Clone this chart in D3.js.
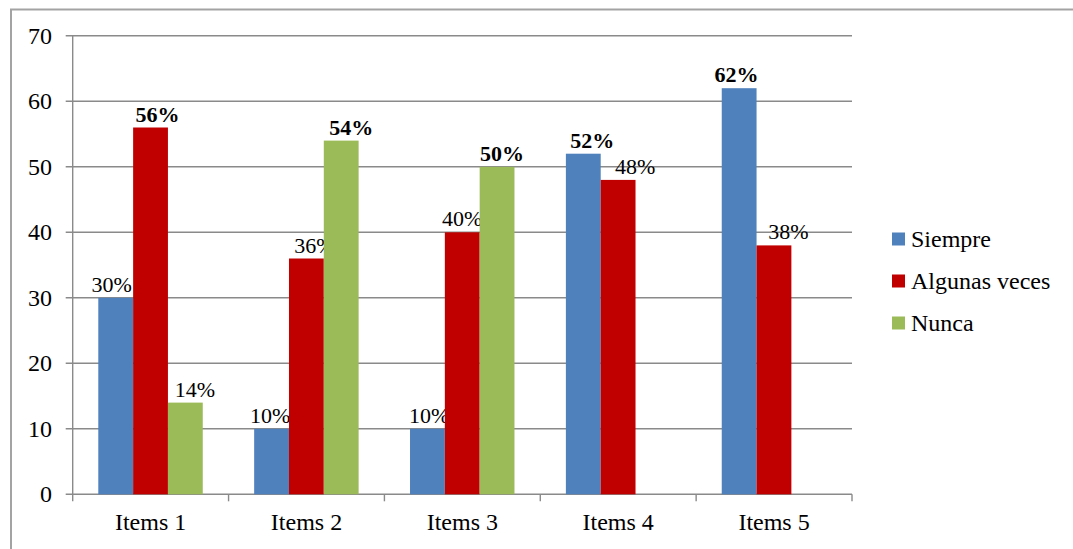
<!DOCTYPE html>
<html>
<head>
<meta charset="utf-8">
<script src="https://cdn.jsdelivr.net/npm/d3@7"></script>
<style>
  body { margin: 0; background: #fff; }
  svg { display: block; }
</style>
</head>
<body>
<svg id="chart" width="1073" height="549"></svg>
<script>
// data
var categories = ["Items 1", "Items 2", "Items 3", "Items 4", "Items 5"];
var seriesNames = ["Siempre", "Algunas veces", "Nunca"];
var siempre = [30, 10, 10, 52, 62];
var algunas = [56, 36, 40, 48, 38];
var nunca = [14, 54, 50, null, null];
var yTicks = [0, 10, 20, 30, 40, 50, 60, 70];

var colors = ["#4F81BD", "#C00000", "#9BBB59"];
var seriesValues = [siempre, algunas, nunca];
var FONT = "'Liberation Serif'";

// label nudges (px) so text sits as in the original
var labelDx = [
  [-4, -1.5, 1.7, 9, -2.7],
  [7, 8, 0, 17, 14.5],
  [9.5, 10, 5, 0, 0]
];

var svg = d3.select("#chart");

// outer frame
svg.append("path")
  .attr("d", "M11,549 L11,9.5 L1073,9.5")
  .attr("fill", "none")
  .attr("stroke", "#a3a3a3")
  .attr("stroke-width", 2);

var x0 = 72.7, x1 = 852, yBottom = 494.3, yTop = 35.8;

var x = d3.scaleBand().domain(categories).range([x0, x1]);
var xs = d3.scaleBand().domain(d3.range(3))
  .range([25.6, x.bandwidth() - 25.8]);
var y = d3.scaleLinear().domain([0, 70]).range([yBottom, yTop]);

// gridlines
svg.append("g")
  .selectAll("line.grid")
  .data(yTicks)
  .enter()
  .append("line")
  .attr("x1", x0 - 7)
  .attr("x2", x1)
  .attr("y1", function(d) { return y(d); })
  .attr("y2", function(d) { return y(d); })
  .attr("stroke", "#8a8a8a")
  .attr("stroke-width", 1.4);

// y axis line
svg.append("line")
  .attr("x1", x0).attr("x2", x0)
  .attr("y1", yTop).attr("y2", yBottom)
  .attr("stroke", "#8a8a8a").attr("stroke-width", 1.4);

// x ticks at category boundaries
var bounds = categories.map(function(c) { return x(c); }).concat([x1]);
svg.append("g")
  .selectAll("line")
  .data(bounds)
  .enter()
  .append("line")
  .attr("x1", function(d) { return d; })
  .attr("x2", function(d) { return d; })
  .attr("y1", yBottom)
  .attr("y2", yBottom + 7)
  .attr("stroke", "#8a8a8a")
  .attr("stroke-width", 1.4);

// y tick labels
svg.append("g")
  .selectAll("text")
  .data(yTicks)
  .enter()
  .append("text")
  .attr("x", 52)
  .attr("y", function(d) { return y(d); })
  .attr("dy", "0.34em")
  .attr("text-anchor", "end")
  .style("font-family", FONT)
  .style("font-size", "24px")
  .text(function(d) { return d; });

// x labels
svg.append("g")
  .selectAll("text")
  .data(categories)
  .enter()
  .append("text")
  .attr("x", function(d) { return x(d) + x.bandwidth() / 2; })
  .attr("y", 530)
  .attr("text-anchor", "middle")
  .style("font-family", FONT)
  .style("font-size", "24px")
  .text(function(d) { return d; });

// bars
seriesValues.forEach(function(vals, s) {
  var pts = vals.map(function(v, i) { return { v: v, i: i }; })
    .filter(function(p) { return p.v != null; });
  var maxes = categories.map(function(c, i) {
    return d3.max(seriesValues, function(a) { return a[i] || 0; });
  });

  svg.append("g")
    .selectAll("rect")
    .data(pts)
    .enter()
    .append("rect")
    .attr("x", function(d) { return x(categories[d.i]) + xs(s); })
    .attr("width", xs.bandwidth())
    .attr("y", function(d) { return y(d.v); })
    .attr("height", function(d) { return yBottom - y(d.v); })
    .attr("fill", colors[s]);

  svg.append("g")
    .selectAll("text")
    .data(pts)
    .enter()
    .append("text")
    .attr("x", function(d) { return x(categories[d.i]) + xs(s) + xs.bandwidth() / 2 + labelDx[s][d.i]; })
    .attr("y", function(d) { return y(d.v) - 6; })
    .attr("text-anchor", "middle")
    .style("font-family", FONT)
    .style("font-size", "22px")
    .style("font-weight", function(d) { return d.v === maxes[d.i] ? "bold" : "normal"; })
    .text(function(d) { return d.v + "%"; });
});

// legend
var legend = svg.append("g")
  .selectAll("g")
  .data(seriesNames)
  .enter()
  .append("g")
  .attr("transform", function(d, i) { return "translate(892," + (239 + i * 42) + ")"; });

legend.append("rect")
  .attr("x", 0).attr("y", -6.5)
  .attr("width", 13).attr("height", 13)
  .attr("fill", function(d, i) { return colors[i]; });

legend.append("text")
  .attr("x", 19)
  .attr("y", 0)
  .attr("dy", "0.34em")
  .style("font-family", FONT)
  .style("font-size", "24px")
  .text(function(d) { return d; });
</script>
</body>
</html>
